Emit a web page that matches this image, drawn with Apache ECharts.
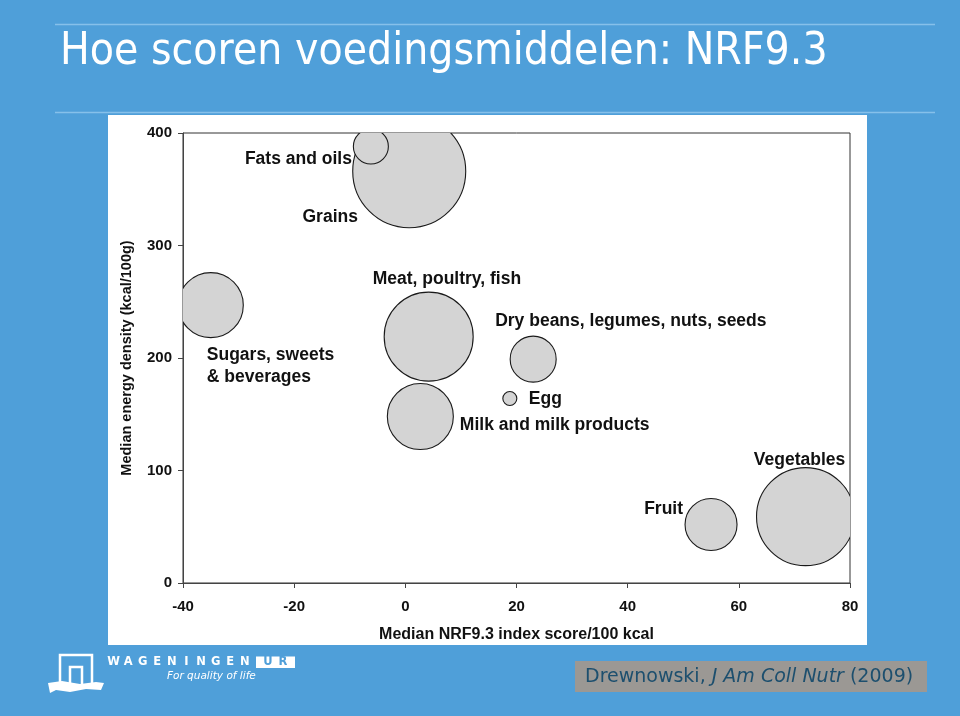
<!DOCTYPE html>
<html>
<head>
<meta charset="utf-8">
<script src="https://cdn.jsdelivr.net/npm/echarts@6/dist/echarts.min.js"></script>
<style>html,body{margin:0;padding:0;background:#4f9fd9;}#c{width:960px;height:716px;}</style>
</head>
<body>
<div id="c"></div>
<script>
// ---- data ----
const categories = ['Grains', 'Fats and oils', 'Sugars, sweets\n& beverages', 'Meat, poultry, fish',
  'Milk and milk products', 'Dry beans, legumes, nuts, seeds', 'Egg', 'Fruit', 'Vegetables'];
const nrfScore = [0.7, -6.2, -35, 4.2, 2.7, 23, 18.8, 55, 72];          // x: median NRF9.3 / 100 kcal
const energyDensity = [366, 388, 247, 219, 148, 199, 164, 52, 59];      // y: kcal/100g
const bubbleSize = [56.5, 17.5, 32.5, 44.5, 33, 23, 7, 26, 49];         // relative bubble size
const xTicks = { min: -40, max: 80, interval: 20 };
const yTicks = { min: 0, max: 400, interval: 100 };

// ---- label layout (px offsets relative to bubble centre) ----
const labelLayout = {
  'Fats and oils': { dx: -19, dy: 12.5, align: 'right' },
  'Grains': { dx: -79, dy: 46, align: 'center' },
  'Sugars, sweets\n& beverages': { dx: -4, dy: 61, align: 'left' },
  'Meat, poultry, fish': { dx: -56, dy: -57, align: 'left' },
  'Milk and milk products': { dx: 39.5, dy: 9, align: 'left' },
  'Dry beans, legumes, nuts, seeds': { dx: -38, dy: -38, align: 'left' },
  'Egg': { dx: 19, dy: 1, align: 'left' },
  'Fruit': { dx: -28, dy: -15.5, align: 'right' },
  'Vegetables': { dx: -6, dy: -56.5, align: 'center' }
};

const seriesData = categories.map((c, i) => [nrfScore[i], energyDensity[i], bubbleSize[i], i]);
const SIZE_SCALE = 1;
const chartFont = '"Liberation Sans", Arial, sans-serif';
const slideFont = '"DejaVu Sans", Verdana, sans-serif';

const chart = echarts.init(document.getElementById('c'), null, { renderer: 'canvas' });

const logoLetters = 'WAGENINGEN'.split('').map((ch, i) => ({
  type: 'text', z: 5, x: 113.5 + i * 14.6, y: 662,
  style: { text: ch, fill: '#fff', font: 'bold 11.5px ' + slideFont, textAlign: 'center', textVerticalAlign: 'middle' }
}));

const option = {
  backgroundColor: '#4f9fd9',
  animation: false,
  grid: { left: 183, right: 110, top: 133, bottom: 133, show: true, borderColor: '#333', borderWidth: 1, backgroundColor: 'transparent' },
  xAxis: {
    type: 'value', min: xTicks.min, max: xTicks.max, interval: xTicks.interval,
    name: 'Median NRF9.3 index score/100 kcal', nameLocation: 'middle', nameGap: 44,
    nameTextStyle: { fontFamily: chartFont, fontWeight: 'bold', fontSize: 16, color: '#111' },
    axisLine: { show: true, onZero: false, lineStyle: { color: '#444', width: 1 } },
    axisTick: { show: true, length: 5, lineStyle: { color: '#444' } },
    axisLabel: { fontFamily: chartFont, fontWeight: 'bold', fontSize: 15, color: '#111', margin: 16 },
    splitLine: { show: false }
  },
  yAxis: {
    type: 'value', min: yTicks.min, max: yTicks.max, interval: yTicks.interval,
    name: 'Median energy density (kcal/100g)', nameLocation: 'middle', nameGap: 49,
    nameTextStyle: { fontFamily: chartFont, fontWeight: 'bold', fontSize: 14.5, color: '#111' },
    axisLine: { show: true, onZero: false, lineStyle: { color: '#444', width: 1 } },
    axisTick: { show: true, length: 5, lineStyle: { color: '#444' } },
    axisLabel: { fontFamily: chartFont, fontWeight: 'bold', fontSize: 15, color: '#111', margin: 11 },
    splitLine: { show: false }
  },
  graphic: [
    { type: 'rect', z: -10, shape: { x: 108, y: 115, width: 759, height: 530 }, style: { fill: '#ffffff' } },
    { type: 'line', z: 1, shape: { x1: 55, y1: 24.5, x2: 935, y2: 24.5 }, style: { stroke: '#86c0ea', lineWidth: 1.5 } },
    { type: 'line', z: 1, shape: { x1: 55, y1: 112.5, x2: 935, y2: 112.5 }, style: { stroke: '#86c0ea', lineWidth: 1.5 } },
    { type: 'text', z: 5, x: 60, y: 53, scaleX: 0.9, style: { text: 'Hoe scoren voedingsmiddelen: NRF9.3', fill: '#ffffff', font: '44px ' + slideFont, textVerticalAlign: 'middle' } },
    // logo
    { type: 'polyline', z: 5, shape: { points: [[60, 686], [60, 655], [92, 655], [92, 686]] }, style: { stroke: '#fff', lineWidth: 2.5, fill: null } },
    { type: 'polyline', z: 5, shape: { points: [[70, 686], [70, 667], [82, 667], [82, 686]] }, style: { stroke: '#fff', lineWidth: 2.5, fill: null } },
    { type: 'polygon', z: 5, shape: { points: [[48, 683], [62, 681], [80, 684], [96, 682], [104, 683], [101, 690], [86, 689], [70, 692], [56, 690], [50, 693]] }, style: { fill: '#fff' } },
    ...logoLetters,
    { type: 'rect', z: 5, shape: { x: 256, y: 656.5, width: 39, height: 11.5 }, style: { fill: '#fff' } },
    { type: 'text', z: 6, x: 268, y: 662.5, style: { text: 'U', fill: '#4f9fd9', font: 'bold 11.5px ' + slideFont, textAlign: 'center', textVerticalAlign: 'middle' } },
    { type: 'text', z: 6, x: 283, y: 662.5, style: { text: 'R', fill: '#4f9fd9', font: 'bold 11.5px ' + slideFont, textAlign: 'center', textVerticalAlign: 'middle' } },
    { type: 'text', z: 5, x: 167, y: 676, style: { text: 'For quality of life', fill: '#fff', font: 'italic 10.5px ' + slideFont, textVerticalAlign: 'middle' } },
    // citation
    { type: 'rect', z: 5, shape: { x: 575, y: 661, width: 352, height: 31 }, style: { fill: '#9b9894' } },
    { type: 'text', z: 6, x: 585, y: 677, style: {
        text: '{n|Drewnowski, }{i|J Am Coll Nutr}{n| (2009)}', textVerticalAlign: 'middle',
        rich: { n: { font: '19px ' + slideFont, fill: '#1d4f6e' }, i: { font: 'italic 19px ' + slideFont, fill: '#1d4f6e' } }
      } }
  ],
  series: [
    {
      type: 'custom', name: 'bubbles', clip: true, z: 3,
      data: seriesData,
      renderItem(params, api) {
        const c = api.coord([api.value(0), api.value(1)]);
        const r = api.value(2) * SIZE_SCALE;
        return { type: 'circle', shape: { cx: c[0], cy: c[1], r: r }, style: { fill: '#d4d4d4', stroke: '#1a1a1a', lineWidth: 1.1 } };
      }
    },
    {
      type: 'custom', name: 'labels', clip: false, z: 4,
      data: seriesData,
      renderItem(params, api) {
        const c = api.coord([api.value(0), api.value(1)]);
        const name = categories[api.value(3)];
        const L = labelLayout[name];
        return { type: 'text', x: c[0] + L.dx, y: c[1] + L.dy,
          style: { text: name, fill: '#111', font: 'bold 17.5px ' + chartFont, textAlign: L.align, textVerticalAlign: 'middle', lineHeight: 22 } };
      }
    }
  ]
};
chart.setOption(option);
</script>
</body>
</html>
